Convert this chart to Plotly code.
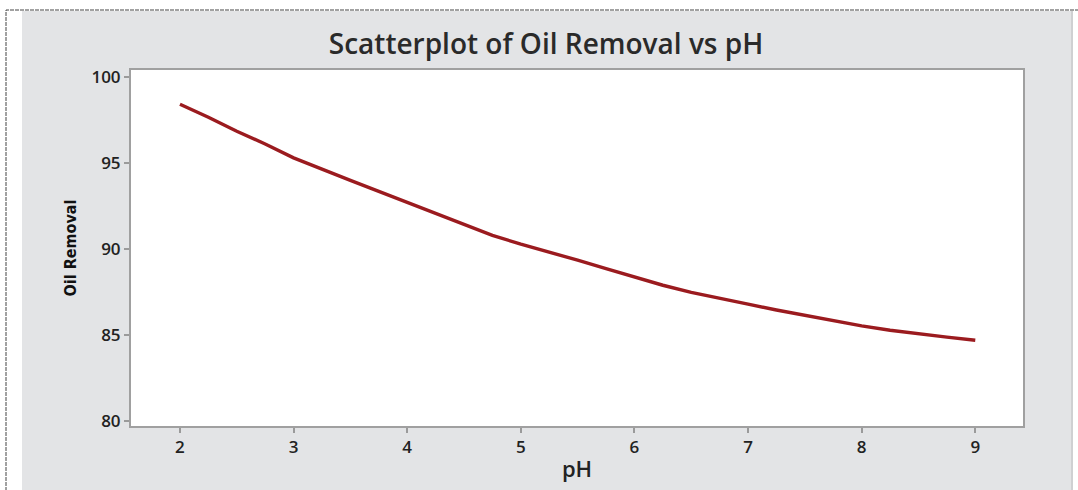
import plotly.graph_objects as go

ph = [2.0, 2.25, 2.5, 2.75, 3.0, 3.25, 3.5, 3.75, 4.0, 4.25, 4.5, 4.75, 5.0, 5.25, 5.5,
      5.75, 6.0, 6.25, 6.5, 6.75, 7.0, 7.25, 7.5, 7.75, 8.0, 8.25, 8.5, 8.75, 9.0]
oil_removal = [98.43, 97.68, 96.86, 96.12, 95.31, 94.63, 94.0, 93.36, 92.73, 92.06, 91.46,
               90.8, 90.29, 89.85, 89.36, 88.87, 88.38, 87.9, 87.49, 87.12, 86.8, 86.46,
               86.15, 85.85, 85.54, 85.28, 85.06, 84.88, 84.70]
x_ticks = [2, 3, 4, 5, 6, 7, 8, 9]
y_ticks = [80, 85, 90, 95, 100]

W, H = 1078, 490
L, R, T, B = 131, 55, 70, 64
pw, ph_ = W - L - R, H - T - B

def px2x(p):
    return (p - L) / pw

def py2y(p):
    return (H - B - p) / ph_

FONT = "Open Sans, DejaVu Sans, sans-serif"

fig = go.Figure()
fig.add_trace(go.Scatter(x=ph, y=oil_removal, mode="lines",
                         line=dict(color="#9B1B1F", width=3.4), showlegend=False,
                         hoverinfo="x+y"))

fig.update_layout(
    width=W, height=H,
    margin=dict(l=L, r=R, t=T, b=B),
    paper_bgcolor="white",
    plot_bgcolor="white",
    font=dict(family=FONT, color="#222222"),
    title=dict(text="Scatterplot of Oil Removal vs pH", x=px2x(546), xref="paper",
               xanchor="center", y=1 - 44 / H, yref="container", yanchor="middle",
               font=dict(size=28, color="#2a2a2a", family=FONT, weight=600)),
    xaxis=dict(range=[1.569, 9.42], tickvals=x_ticks, ticks="outside", ticklen=5,
               tickcolor="#9a9a9a", tickwidth=1.5, showline=True, linecolor="#a0a0a0",
               linewidth=2, mirror=True, showgrid=False, zeroline=False,
               tickfont=dict(size=17, color="#222222", family=FONT, weight=600),
               title=dict(text="pH", font=dict(size=22, color="#222222", family=FONT,
                                               weight=600), standoff=4)),
    yaxis=dict(range=[79.71, 100.425], tickvals=y_ticks, ticks="outside", ticklen=5,
               tickcolor="#9a9a9a", tickwidth=1.5, showline=True, linecolor="#a0a0a0",
               linewidth=2, mirror=True, showgrid=False, zeroline=False,
               tickfont=dict(size=17, color="#222222", family=FONT, weight=600),
               title=dict(text="Oil Removal", font=dict(size=16, color="#111111",
                          family="DejaVu Sans Condensed, Liberation Sans Narrow, sans-serif",
                          weight="bold"),
                          standoff=11)),
    shapes=[
        dict(type="rect", xref="paper", yref="paper", layer="below",
             x0=px2x(22), x1=px2x(1072), y0=py2y(495), y1=py2y(11),
             fillcolor="#E3E4E6", line=dict(width=0)),
        dict(type="rect", xref="paper", yref="paper", layer="below",
             x0=0, x1=1, y0=0, y1=1,
             fillcolor="white", line=dict(width=0)),
        dict(type="line", xref="paper", yref="paper", layer="below",
             x0=px2x(1072), x1=px2x(1072), y0=py2y(495), y1=py2y(11),
             line=dict(color="#cfd0d2", width=2)),
        dict(type="rect", xref="paper", yref="paper", layer="above",
             x0=px2x(6), x1=px2x(1085), y0=py2y(500), y1=py2y(10),
             fillcolor="rgba(0,0,0,0)", line=dict(color="#444444", width=1, dash="4px,1px")),
    ],
)

fig.write_html("out.html", config={"displayModeBar": False},
               post_script="document.body.style.margin='0';")
